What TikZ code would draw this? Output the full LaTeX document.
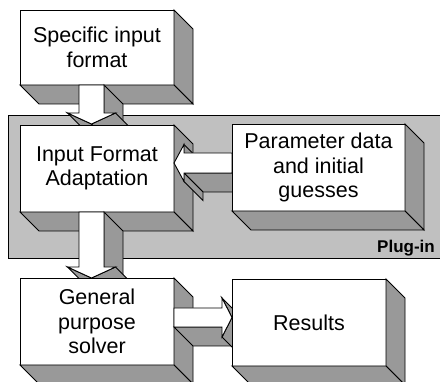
\documentclass[tikz,border=0pt]{standalone}
\usepackage{fontspec}
\setmainfont{Liberation Sans}
\usetikzlibrary{calc}
\definecolor{sidegray}{RGB}{153,153,153}
\definecolor{panelgray}{RGB}{192,192,192}
\pgfdeclarelayer{lA}
\pgfdeclarelayer{lB}
\pgfdeclarelayer{lC}
\pgfdeclarelayer{lD}
\pgfdeclarelayer{lE}
\pgfdeclarelayer{lF}
\pgfdeclarelayer{lG}
\pgfsetlayers{lA,lB,lC,lD,lE,lF,lG,main}
\newcommand\mainfs{\fontsize{21.5}{24.5}\selectfont}
\tikzset{
  front/.style={draw=black, fill=white, line width=0.9pt},
  sidef/.style={draw=black, fill=sidegray, line width=0.9pt},
  boxnode/.style={front, inner sep=0pt, outer sep=0pt, align=center, font=\mainfs},
  panelbox/.style={draw=black, fill=panelgray, line width=0.9pt, inner sep=0pt, outer sep=0pt},
  plugtext/.style={font=\bfseries\fontsize{17}{20}\selectfont, inner sep=0pt, anchor=base east},
}
% 3D box: name, centre, width, height, text
\newcommand\solidbox[5]{%
  \node[boxnode, minimum width=#3pt, minimum height=#4pt] (#1) at (#2) {#5};
  \draw[sidef] (#1.north east) -- ++(19pt,-19pt) -- ($(#1.south east)+(19pt,-19pt)$) -- (#1.south east) -- cycle;
  \draw[sidef] (#1.south west) -- (#1.south east) -- ++(19pt,-19pt) -- ($(#1.south west)+(19pt,-19pt)$) -- cycle;
}
% 3D arrow pointing down: start, tip
\newcommand\tdarrowdown[2]{%
  \draw[sidef] let \p1=(#1), \p2=(#2) in
    (\x1-24pt,\y2+11pt) -- (\x1,\y2) -- (\x1+19pt,\y2-19pt) -- (\x1-5pt,\y2-8pt) -- cycle;
  \draw[sidef] let \p1=(#1), \p2=(#2) in
    (\x1+12.5pt,\y2+11pt) -- (\x1+12.5pt,\y1) -- (\x1+31.5pt,\y1-19pt) -- (\x1+31.5pt,\y2-8pt) -- cycle;
  \draw[sidef] let \p1=(#1), \p2=(#2) in
    (\x1,\y2) -- (\x1+24pt,\y2+11pt) -- (\x1+43pt,\y2-8pt) -- (\x1+19pt,\y2-19pt) -- cycle;
  \draw[front] let \p1=(#1), \p2=(#2) in
    (\x1-12.5pt,\y1) -- (\x1-12.5pt,\y2+11pt) -- (\x1-24pt,\y2+11pt) -- (\x1,\y2)
    -- (\x1+24pt,\y2+11pt) -- (\x1+12.5pt,\y2+11pt) -- (\x1+12.5pt,\y1) -- cycle;
}
% 3D arrow pointing left: start (right end), tip
\newcommand\tdarrowleft[2]{%
  \draw[sidef] let \p1=(#1), \p2=(#2) in
    (\x2+10pt,\y1-10pt) -- (\x1,\y1-10pt) -- (\x1+19pt,\y1-29pt) -- (\x2+29pt,\y1-29pt) -- cycle;
  \draw[sidef] let \p1=(#1), \p2=(#2) in
    (\x2+10pt,\y1-18.5pt) -- (\x2+10pt,\y1-10pt) -- (\x2+29pt,\y1-29pt) -- (\x2+29pt,\y1-37.5pt) -- cycle;
  \draw[sidef] let \p1=(#1), \p2=(#2) in
    (\x2+10pt,\y1+10pt) -- (\x2+10pt,\y1+18.5pt) -- (\x2+29pt,\y1-0.5pt) -- (\x2+29pt,\y1-9pt) -- cycle;
  \draw[front] let \p1=(#1), \p2=(#2) in
    (\x1,\y1+10pt) -- (\x2+10pt,\y1+10pt) -- (\x2+10pt,\y1+18.5pt) -- (\x2,\y1)
    -- (\x2+10pt,\y1-18.5pt) -- (\x2+10pt,\y1-10pt) -- (\x1,\y1-10pt) -- cycle;
}
% 3D arrow pointing right: start (left end), tip
\newcommand\tdarrowright[2]{%
  \draw[sidef] let \p1=(#1), \p2=(#2) in
    (\x2-10pt,\y1-9.5pt) -- (\x1,\y1-9.5pt) -- (\x1+19pt,\y1-28.5pt) -- (\x2+9pt,\y1-28.5pt) -- cycle;
  \draw[sidef] let \p1=(#1), \p2=(#2) in
    (\x2-10pt,\y1+19.5pt) -- (\x2,\y1) -- (\x2+19pt,\y1-19pt) -- (\x2+9pt,\y1+0.5pt) -- cycle;
  \draw[sidef] let \p1=(#1), \p2=(#2) in
    (\x2,\y1) -- (\x2-10pt,\y1-19.5pt) -- (\x2+9pt,\y1-38.5pt) -- (\x2+19pt,\y1-19pt) -- cycle;
  \draw[front] let \p1=(#1), \p2=(#2) in
    (\x1,\y1+9.5pt) -- (\x2-10pt,\y1+9.5pt) -- (\x2-10pt,\y1+19.5pt) -- (\x2,\y1)
    -- (\x2-10pt,\y1-19.5pt) -- (\x2-10pt,\y1-9.5pt) -- (\x1,\y1-9.5pt) -- cycle;
}
\begin{document}
\begin{tikzpicture}[x=1pt,y=-1pt]
\useasboundingbox (0,0) rectangle (440,382);
\begin{pgfonlayer}{lA}
  \node[panelbox, anchor=north west, minimum width=437.5pt, minimum height=143.5pt] (panel) at (8.5,115) {};
\end{pgfonlayer}
\begin{pgfonlayer}{lB}
  \solidbox{b1}{97,47.5}{154}{75}{Specific input\\format}
\end{pgfonlayer}
\begin{pgfonlayer}{lD}
  \solidbox{b2}{97,168.5}{154}{87}{Input Format\\Adaptation}
\end{pgfonlayer}
\begin{pgfonlayer}{lF}
  \solidbox{b3}{318.5,167.5}{173}{87}{Parameter data\\and initial\\guesses}
  \solidbox{b4}{97,321.5}{154}{87}{General\\purpose\\solver}
\end{pgfonlayer}
\solidbox{b5}{309,322.5}{154}{87}{Results}
\node[plugtext] (plug) at (435,252.7) {Plug-in};
\begin{pgfonlayer}{lC}
  \tdarrowdown{$(b1.south)+(-5.5,0)$}{$(b2.north)+(-5.5,-1)$}
\end{pgfonlayer}
\begin{pgfonlayer}{lE}
  \tdarrowdown{$(b2.south)+(-5.5,0)$}{$(b4.north)+(-5.5,0)$}
  \tdarrowleft{$(b3.west)+(0,-4.5)$}{b2.east}
\end{pgfonlayer}
\begin{pgfonlayer}{lG}
  \tdarrowright{$(b4.east)+(0,-4)$}{b5.west}
\end{pgfonlayer}
\end{tikzpicture}
\end{document}
